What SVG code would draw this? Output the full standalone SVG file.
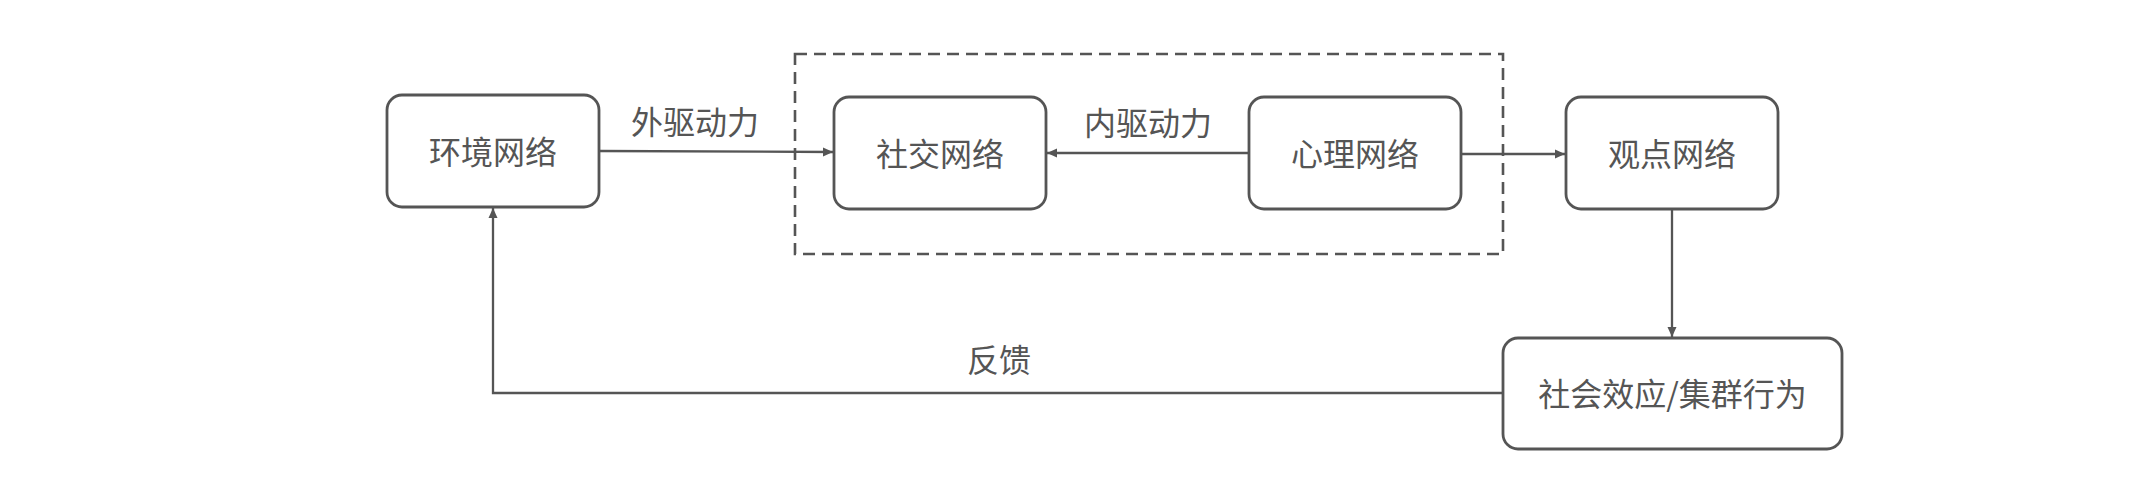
<svg xmlns="http://www.w3.org/2000/svg" width="2154" height="496" viewBox="0 0 2154 496">
<defs>
<style>
.node rect{fill:#ffffff;stroke:#555555;stroke-width:2.8}
.t{font-family:"Noto Sans CJK SC","Liberation Sans",sans-serif;font-size:32px;fill:#555555;text-anchor:middle;dominant-baseline:central}
.c{fill:none;stroke:#555555;stroke-width:2.3}
.group{fill:none;stroke:#555555;stroke-width:2.6;stroke-dasharray:12 7}
</style>
<marker id="arr" markerUnits="userSpaceOnUse" markerWidth="12" markerHeight="10" refX="10" refY="5" orient="auto">
<path d="M0,0.5 L10,5 L0,9.5 Z" fill="#555555"/>
</marker>
</defs>
<rect width="2154" height="496" fill="#ffffff"/>
<rect id="inner-group" class="group" x="795" y="54" width="708" height="200"/>
<g id="connectors">
<path class="c" d="M599,151 L833,152" marker-end="url(#arr)"/>
<path class="c" d="M1249,153 L1047,153" marker-end="url(#arr)"/>
<path class="c" d="M1461,154 L1565,154" marker-end="url(#arr)"/>
<path class="c" d="M1672,209 L1672,337" marker-end="url(#arr)"/>
<path class="c" d="M1503,393 L493,393 L493,208" marker-end="url(#arr)"/>
<text class="t" x="695" y="120">外驱动力</text>
<text class="t" x="1148" y="121">内驱动力</text>
<text class="t" x="999" y="358">反馈</text>
</g>
<g id="env" class="node"><rect x="387" y="95" width="212" height="112" rx="15"/><text class="t" x="493" y="150">环境网络</text></g>
<g id="social" class="node"><rect x="834" y="97" width="212" height="112" rx="15"/><text class="t" x="940" y="152">社交网络</text></g>
<g id="psych" class="node"><rect x="1249" y="97" width="212" height="112" rx="15"/><text class="t" x="1355" y="152">心理网络</text></g>
<g id="opinion" class="node"><rect x="1566" y="97" width="212" height="112" rx="15"/><text class="t" x="1672" y="152">观点网络</text></g>
<g id="effect" class="node"><rect x="1503" y="338" width="339" height="111" rx="15"/><text class="t" x="1672.5" y="392">社会效应/集群行为</text></g>
</svg>
